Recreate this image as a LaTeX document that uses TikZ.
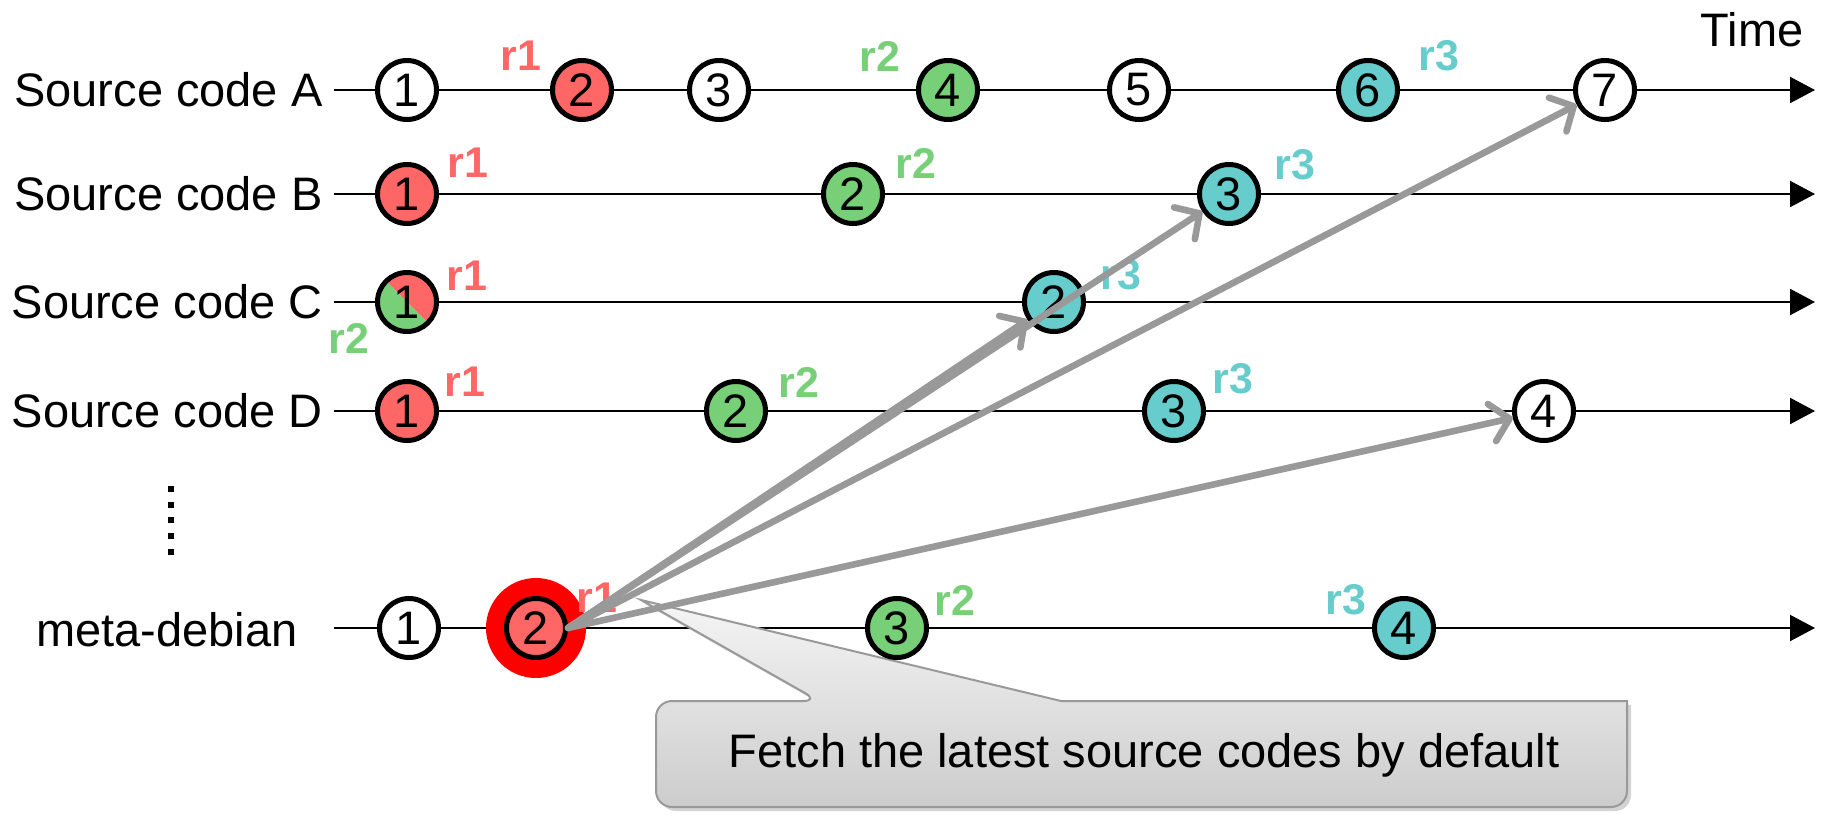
\documentclass[tikz,border=0pt]{standalone}
\usepackage{fontspec}
\setmainfont{Liberation Sans}
\usetikzlibrary{arrows.meta,shadows}
\definecolor{cred}{HTML}{FF6666}
\definecolor{cgreen}{HTML}{77D077}
\definecolor{cteal}{HTML}{66CCCC}
\definecolor{cgray}{HTML}{999999}
\begin{document}
\begin{tikzpicture}[x=0.5pt,y=-0.5pt,
  txt/.style={font=\fontsize{23.5pt}{28pt}\selectfont, inner sep=0pt},
  ev/.style={circle, draw=black, line width=2.5pt, minimum size=29.5pt, inner sep=0pt, font=\fontsize{23.5pt}{28pt}\selectfont},
  evw/.style={ev, fill=white},
  evr/.style={ev, fill=cred},
  evg/.style={ev, fill=cgreen},
  evt/.style={ev, fill=cteal},
  rlab/.style={font=\fontsize{21.5pt}{24pt}\selectfont\bfseries, inner sep=0pt},
  tl/.style={line width=1.1pt, -{Triangle[length=12.5pt,width=13pt]}},
  garrow/.style={draw=cgray, line width=3.3pt, line cap=round, -{Straight Barb[length=9pt,width=19pt,line cap=round,line join=round]}},
  callout/.style={draw=cgray, line width=1pt, top color=white!96!black, bottom color=white!80!black, drop shadow={shadow xshift=2pt, shadow yshift=-2pt, opacity=0.35}}
]
\useasboundingbox (0,0) rectangle (1827,815);

% timelines
\foreach \y/\n in {90/A,194/B,302/C,411/D,628/M} {
  \coordinate (s\n) at (334,\y);
  \coordinate (e\n) at (1815,\y);
  \draw[tl] (s\n) -- (e\n);
}

% labels
\node[txt, anchor=east] (lA) at (323,90) {Source code A};
\node[txt, anchor=east] (lB) at (323,194) {Source code B};
\node[txt, anchor=east] (lC) at (323,302) {Source code C};
\node[txt, anchor=east] (lD) at (323,411) {Source code D};
\node[txt, anchor=east] (lM) at (298,630) {meta-debian};
\node[txt] (time) at (1752,30) {Time};

% vertical dots
\coordinate (d1) at (171,486);
\coordinate (d2) at (171,556);
\draw[line width=3pt, dash pattern=on 3pt off 4.85pt] (d1) -- (d2);

% callout
\path[callout] (656,754) [rounded corners=8pt] -- (656,701) -- (819,701) [sharp corners] -- (641,600) -- (1061,701) -- (1627,701) [rounded corners=8pt] -- (1627,807) -- (656,807) -- cycle;
\node[txt] (ctext) at (1144,755) {Fetch the latest source codes by default};

% red highlight
\fill[red] (536,628) circle[radius=25pt];

% row A
\node[evw] (a1) at (407,90) {1};
\node[evr] (a2) at (582,90) {2};
\node[evw] (a3) at (719,90) {3};
\node[evg] (a4) at (948,90) {4};
\node[evw] (a5) at (1139,90) {5};
\node[evt] (a6) at (1368,90) {6};
\node[evw] (a7) at (1605,90) {7};
% row B
\node[evr] (b1) at (407,194) {1};
\node[evg] (b2) at (853,194) {2};
\node[evt] (b3) at (1229,194) {3};
% row C
\node[ev, path picture={
  \fill[cred] (path picture bounding box.north west) -- (path picture bounding box.north east) -- (path picture bounding box.south east) -- cycle;
  \fill[cgreen] (path picture bounding box.north west) -- (path picture bounding box.south west) -- (path picture bounding box.south east) -- cycle;}] (c1) at (407,302) {1};
\node[evt] (c2) at (1054,302) {2};
% row D
\node[evr] (d1n) at (407,411) {1};
\node[evg] (d2n) at (736,411) {2};
\node[evt] (d3n) at (1174,411) {3};
\node[evw] (d4n) at (1544,411) {4};
% meta
\node[evw] (m1) at (409,628) {1};
\node[evr] (m2) at (536,628) {2};
\node[evg] (m3) at (897,628) {3};
\node[evt] (m4) at (1404,628) {4};

% revision labels
\node[rlab, text=cred] (ar1) at (521,56) {r1};
\node[rlab, text=cgreen] (ar2) at (880,56) {r2};
\node[rlab, text=cteal] (ar3) at (1439,56) {r3};
\node[rlab, text=cred] (br1) at (468,163) {r1};
\node[rlab, text=cgreen] (br2) at (916,163) {r2};
\node[rlab, text=cteal] (br3) at (1295,165) {r3};
\node[rlab, text=cred] (cr1) at (467,276) {r1};
\node[rlab, text=cgreen] (cr2) at (349,338) {r2};
\node[rlab, text=cteal] (cr3) at (1121,275) {r3};
\node[rlab, text=cred] (dr1) at (465,382) {r1};
\node[rlab, text=cgreen] (dr2) at (799,382) {r2};
\node[rlab, text=cteal] (dr3) at (1233,379) {r3};
\node[rlab, text=cred] (mr1) at (597,598) {r1};
\node[rlab, text=cgreen] (mr2) at (955,600) {r2};
\node[rlab, text=cteal] (mr3) at (1346,600) {r3};

% fetch arrows
\draw[garrow] (m2.east) -- (c2);
\draw[garrow] (m2.east) -- (b3);
\draw[garrow] (m2.east) -- (a7);
\draw[garrow] (m2.east) -- (d4n);
\end{tikzpicture}
\end{document}
